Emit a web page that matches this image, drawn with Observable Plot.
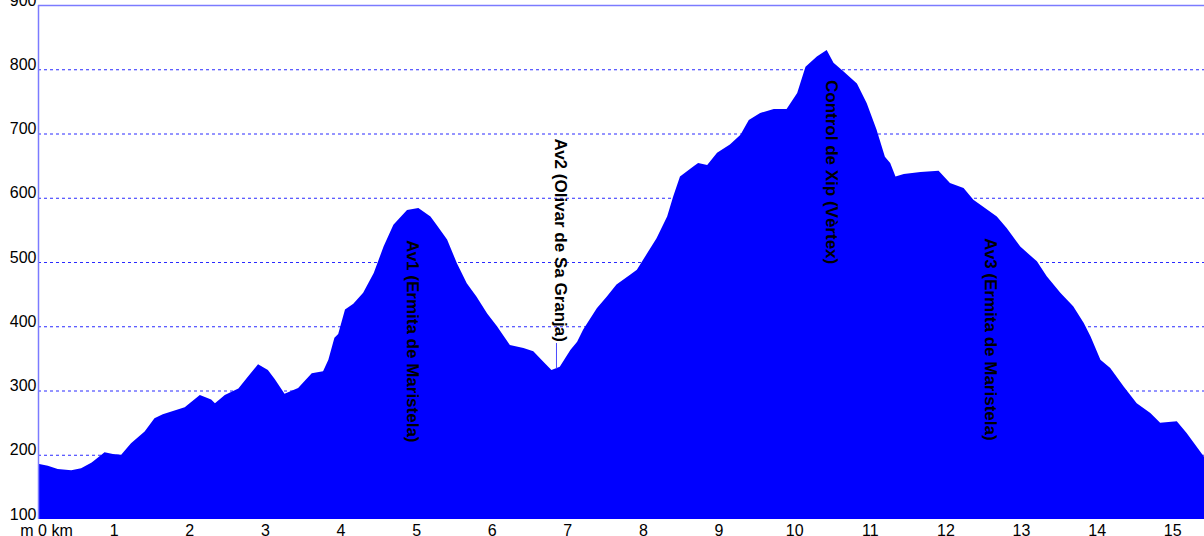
<!DOCTYPE html>
<html>
<head>
<meta charset="utf-8">
<script src="https://cdn.jsdelivr.net/npm/d3@7"></script>
<script src="https://cdn.jsdelivr.net/npm/@observablehq/plot@0.6"></script>
<style>
  html, body { margin: 0; padding: 0; background: #fff; }
  #chart { width: 1204px; height: 536px; overflow: hidden; }
</style>
</head>
<body>
<div id="chart"></div>
<script>
// Distance along the route (km)
const distanceKm = [0, 0.13, 0.26, 0.44, 0.57, 0.71, 0.88, 0.99, 1.10, 1.23, 1.41, 1.54, 1.65, 1.94, 2.14, 2.29, 2.34, 2.47, 2.65, 2.78, 2.91, 3.04, 3.13, 3.26, 3.44, 3.62, 3.77, 3.84, 3.92, 3.97, 4.06, 4.17, 4.30, 4.44, 4.57, 4.70, 4.88, 5.03, 5.19, 5.27, 5.41, 5.54, 5.67, 5.80, 5.94, 6.07, 6.24, 6.42, 6.55, 6.68, 6.79, 6.90, 7.04, 7.13, 7.21, 7.39, 7.52, 7.65, 7.83, 7.92, 8.18, 8.32, 8.40, 8.49, 8.67, 8.73, 8.85, 8.98, 9.15, 9.29, 9.40, 9.55, 9.73, 9.90, 10.04, 10.15, 10.30, 10.43, 10.52, 10.65, 10.83, 10.96, 11.09, 11.20, 11.27, 11.34, 11.45, 11.67, 11.91, 12.06, 12.24, 12.37, 12.50, 12.68, 12.81, 12.99, 13.21, 13.34, 13.52, 13.69, 13.83, 13.92, 14.05, 14.18, 14.36, 14.53, 14.71, 14.84, 15.06, 15.19, 15.42];
// Elevation (m)
const elevationM = [186, 183, 178, 176, 179, 188, 204, 201, 200, 218, 236, 257, 263, 274, 293, 286, 280, 293, 303, 322, 341, 332, 318, 295, 304, 327, 330, 348, 382, 388, 426, 435, 452, 483, 524, 558, 581, 584, 571, 558, 535, 498, 467, 446, 420, 400, 371, 366, 361, 345, 332, 337, 363, 376, 395, 428, 446, 465, 480, 488, 537, 571, 602, 633, 649, 654, 651, 670, 683, 698, 721, 732, 738, 738, 763, 804, 820, 830, 810, 797, 778, 747, 706, 664, 654, 633, 637, 640, 642, 623, 615, 597, 586, 571, 553, 524, 501, 478, 452, 431, 405, 384, 348, 335, 306, 280, 265, 250, 252, 234, 197];

// Waypoint labels
const wpNames = ["Av1 (Ermita de Maristela)", "Av2 (Olivar de Sa Granja)", "Control de Xip (Vèrtex)", "Av3 (Ermita de Maristela)"];
const wpKm = [4.95, 6.90, 10.49, 12.59];
const wpLabelTop = [535, 693, 784, 538];
// Leader line for Av2
const leaderKm = [6.85];
const leaderFrom = [334];
const leaderTo = [374];

// Ticks
const xTickKm = [1, 2, 3, 4, 5, 6, 7, 8, 9, 10, 11, 12, 13, 14, 15];
const yTickM = [100, 200, 300, 400, 500, 600, 700, 800, 900];
const gridM = [200, 300, 400, 500, 600, 700, 800];

const profile = distanceKm.map((k, i) => ({ km: k, elev: elevationM[i] }));
const waypoints = wpNames.map((n, i) => ({ name: n, km: wpKm[i], top: wpLabelTop[i] }));
const leader = leaderKm.map((k, i) => ({ km: k, a: leaderFrom[i], b: leaderTo[i] }));

const chart = Plot.plot({
  width: 1204,
  height: 536,
  marginLeft: 38,
  marginRight: 0,
  marginTop: 5,
  marginBottom: 17,
  x: { domain: [0, 15.42] },
  y: { domain: [100, 900] },
  style: {
    fontFamily: '"Liberation Sans", Arial, sans-serif',
    fontSize: "16px",
    color: "#000",
    background: "#fff"
  },
  marks: [
    Plot.ruleY(gridM, { stroke: "#2a2aff", strokeWidth: 1, strokeDasharray: "3,3" }),
    Plot.areaY(profile, { x: "km", y1: 100, y2: "elev", fill: "#0000ff", curve: "linear" }),
    Plot.ruleX([0], { stroke: "#7b7bff", strokeWidth: 1.5 }),
    Plot.ruleY([900], { stroke: "#7b7bff", strokeWidth: 1.5 }),
    Plot.ruleX(leader, { x: "km", y1: "a", y2: "b", stroke: "#4a4aff", strokeWidth: 1 }),
    Plot.text(waypoints, {
      x: "km", y: "top", text: "name", rotate: 90,
      textAnchor: "start", lineAnchor: "middle",
      fontWeight: "bold", fontSize: 17, fill: "#000"
    }),
    Plot.axisY({ ticks: yTickM, tickSize: 0, tickPadding: 2, dy: -5, label: null, tickFormat: d => String(d) }),
    Plot.axisX({ ticks: xTickKm, tickSize: 0, tickPadding: 5, label: null, tickFormat: d => String(d) }),
    Plot.axisX({ ticks: [0], tickSize: 0, tickPadding: 5, dx: 8, label: null, tickFormat: () => "m 0 km" })
  ]
});
document.getElementById("chart").appendChild(chart);
</script>
</body>
</html>
